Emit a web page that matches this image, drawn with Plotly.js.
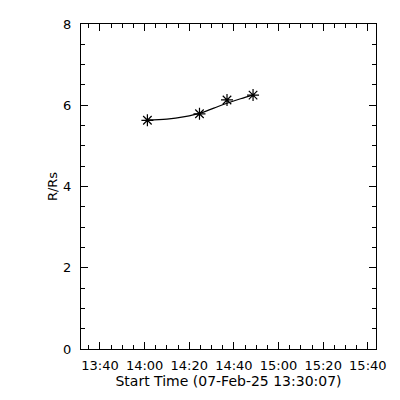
<!DOCTYPE html>
<html>
<head>
<meta charset="utf-8">
<script src="https://cdn.plot.ly/plotly-3.0.1.min.js"></script>
<style>html,body{margin:0;padding:0;background:#fff;}#chart{width:400px;height:400px;}</style>
</head>
<body>
<div id="chart"></div>
<script>
// measured points (time, R/Rs)
var pointTimes = ["2025-02-07 14:01:15", "2025-02-07 14:24:35", "2025-02-07 14:36:55", "2025-02-07 14:48:35"];
var pointValues = [5.63, 5.79, 6.13, 6.25];
// fitted curve
var fitTimes = ["2025-02-07 14:01:15", "2025-02-07 14:10:00", "2025-02-07 14:18:00", "2025-02-07 14:24:35", "2025-02-07 14:31:00", "2025-02-07 14:36:55", "2025-02-07 14:43:00", "2025-02-07 14:48:35"];
var fitValues = [5.64, 5.66, 5.72, 5.80, 5.93, 6.05, 6.16, 6.25];
var xTitle = "Start Time (07-Feb-25 13:30:07)";
var yTitle = "R/Rs";

var fnt = {family: "DejaVu Sans, Liberation Sans, sans-serif", size: 13, color: "#000"};
var tfnt = {family: "DejaVu Sans, Liberation Sans, sans-serif", size: 14, color: "#000"};

var data = [
  {x: fitTimes, y: fitValues, mode: "lines", type: "scatter",
   line: {color: "#000", width: 1.2, shape: "spline", smoothing: 1}, hoverinfo: "skip"},
  {x: pointTimes, y: pointValues, mode: "markers", type: "scatter",
   marker: {symbol: "asterisk-open", size: 10, color: "#000", line: {color: "#000", width: 1.2}}}
];

var layout = {
  width: 400, height: 400,
  margin: {l: 81, r: 24, t: 24, b: 51, pad: 0},
  paper_bgcolor: "#fff", plot_bgcolor: "#fff",
  showlegend: false,
  font: fnt,
  xaxis: {
    type: "date",
    range: ["2025-02-07 13:31:30", "2025-02-07 15:43:40"],
    tick0: "2025-02-07 13:40:00", dtick: 1200000, tickformat: "%H:%M",
    ticks: "inside", ticklen: 7, tickwidth: 1, tickcolor: "#000",
    minor: {dtick: 300000, ticks: "inside", ticklen: 4, tickwidth: 1, tickcolor: "#000"},
    showline: true, linecolor: "#000", linewidth: 1, mirror: "ticks",
    showgrid: false, zeroline: false,
    tickfont: fnt, ticklabelstandoff: 4,
    title: {text: xTitle, font: tfnt, standoff: 3}
  },
  yaxis: {
    range: [0, 8], dtick: 2, tick0: 0,
    ticks: "inside", ticklen: 7, tickwidth: 1, tickcolor: "#000",
    minor: {dtick: 0.5, ticks: "inside", ticklen: 4, tickwidth: 1, tickcolor: "#000"},
    showline: true, linecolor: "#000", linewidth: 1, mirror: "ticks",
    showgrid: false, zeroline: false,
    tickfont: fnt, ticklabelstandoff: 6,
    title: {text: yTitle, font: fnt, standoff: 2}
  }
};

Plotly.newPlot("chart", data, layout, {staticPlot: true, displayModeBar: false});
</script>
</body>
</html>
